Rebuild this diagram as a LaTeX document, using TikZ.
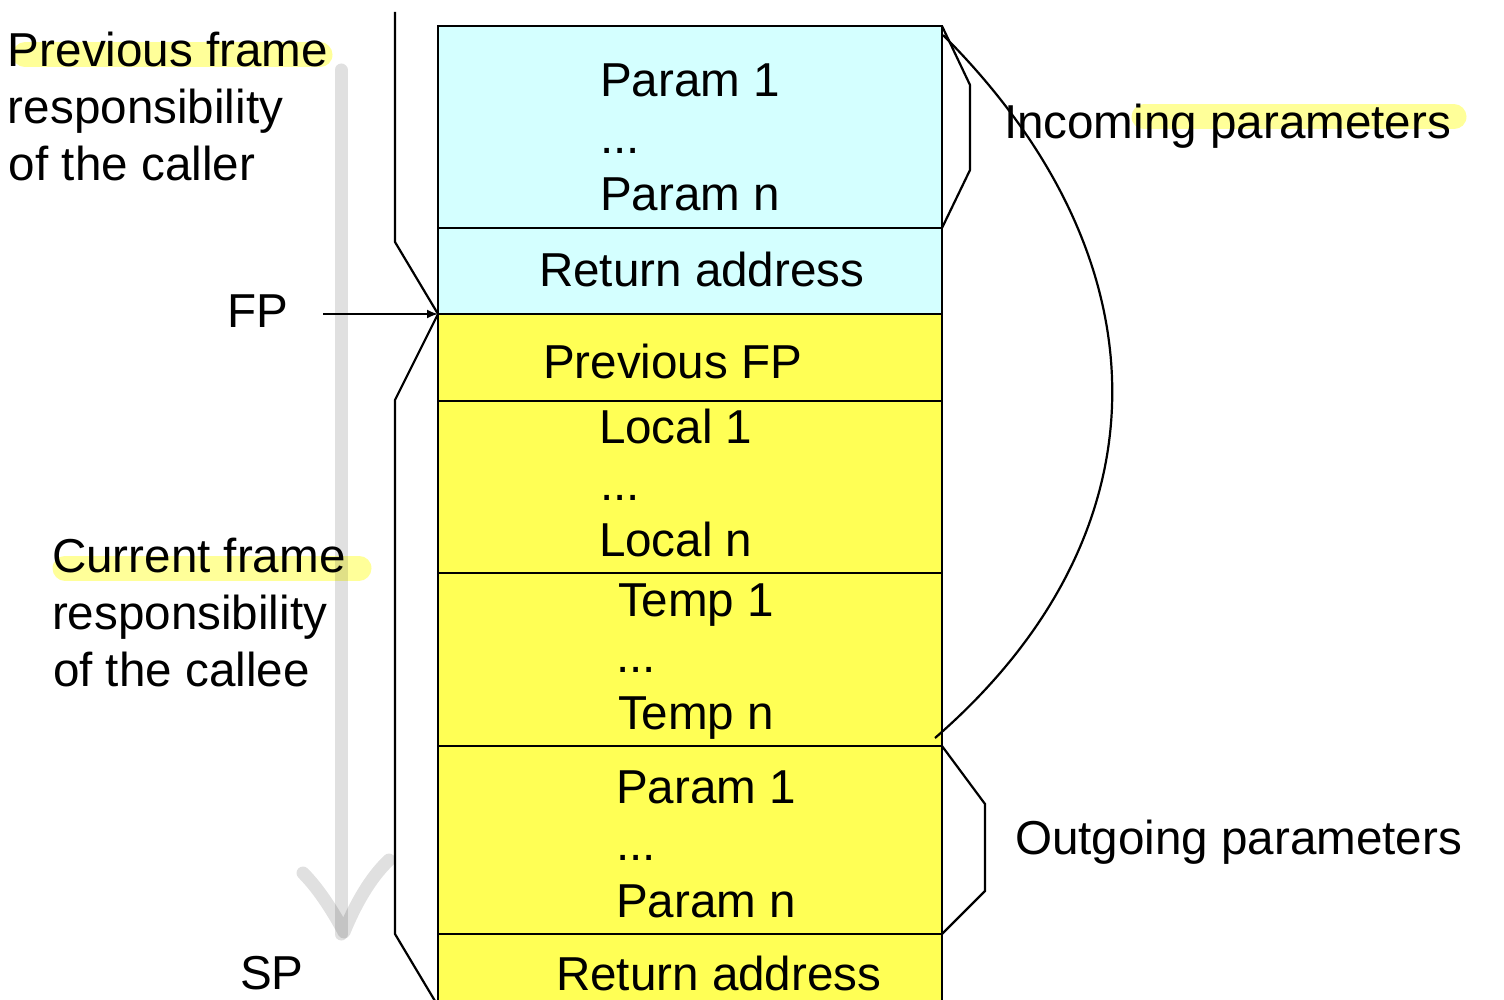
\documentclass[tikz,border=0pt]{standalone}
\usepackage{fontspec}
\setmainfont{Liberation Sans}
\usetikzlibrary{arrows.meta}
\definecolor{cyanc}{HTML}{D4FFFF}
\definecolor{yelc}{HTML}{FFFF55}
\definecolor{hlc}{HTML}{FFFF99}
\tikzset{
  cell/.style={draw=black, line width=2pt, minimum width=504pt, inner sep=0pt, outer sep=0pt},
  txt/.style={anchor=base west, inner sep=0pt, outer sep=0pt, font=\fontsize{47.6}{57}\selectfont},
  hl/.style={draw=hlc, line width=25pt, line cap=round},
  bracket/.style={draw=black, line width=2.2pt, line join=miter},
  grayarrow/.style={draw=black, draw opacity=0.12, line width=13pt, line cap=round, line join=round},
}
\begin{document}
\begin{tikzpicture}[x=1pt,y=-1pt]
\useasboundingbox (0,0) rectangle (1504,1000);
\clip (0,0) rectangle (1504,1000);
\fill[white] (0,0) rectangle (1504,1000);

% highlights
\draw[hl] (25,55) -- (320,55);
\draw[hl] (65,568) -- (359,568);
\draw[hl] (1144,117) -- (1454,117);

% gray direction arrow
\draw[grayarrow] (341,70) -- (341,934);
\draw[grayarrow] (303,873) .. controls (320,890) and (335,915) .. (344,932) .. controls (355,905) and (370,878) .. (389,860);

% stack cells
\node[cell, fill=cyanc, minimum height=202pt] (inpar) at (690,127) {};
\node[cell, fill=cyanc, minimum height=86pt] (retin) at (690,271) {};
\node[cell, fill=yelc, minimum height=87pt] (prevfp) at (690,357.5) {};
\node[cell, fill=yelc, minimum height=172pt] (locals) at (690,487) {};
\node[cell, fill=yelc, minimum height=173pt] (temps) at (690,659.5) {};
\node[cell, fill=yelc, minimum height=188pt] (outpar) at (690,840) {};
\node[cell, fill=yelc, minimum height=80pt] (retout) at (690,974) {};

% cell texts
\node[txt] (p1) at (600,97) {Param 1};
\node[txt] (pd) at (600,154) {...};
\node[txt] (pn) at (600,211) {Param n};
\node[txt] (ra1) at (539,287) {Return address};
\node[txt] (pfp) at (543,378) {Previous FP};
\node[txt] (l1) at (599,443) {Local 1};
\node[txt] (ld) at (600,500) {...};
\node[txt] (ln) at (599,556) {Local n};
\node[txt] (t1) at (618,616) {Temp 1};
\node[txt] (td) at (616,672) {...};
\node[txt] (tn) at (618,729) {Temp n};
\node[txt] (op1) at (616,803) {Param 1};
\node[txt] (opd) at (616,860) {...};
\node[txt] (opn) at (616,917) {Param n};
\node[txt] (ra2) at (556,990) {Return address};

% left texts
\node[txt] (pf1) at (8,67) {Previous frame};
\node[txt] (pf2) at (8,124) {responsibility};
\node[txt] (pf3) at (9,181) {of the caller};
\node[txt] (cf1) at (52,572) {Current frame};
\node[txt] (cf2) at (52,629) {responsibility};
\node[txt] (cf3) at (53,686) {of the callee};
\node[txt] (fp) at (227,327) {FP};
\node[txt] (sp) at (240,989) {SP};

% right texts
\node[txt] (inc) at (1004,139) {Incoming parameters};
\node[txt] (outg) at (1015,854) {Outgoing parameters};

% FP arrow
\coordinate (fpstart) at (323,314);
\draw[line width=2pt, -{Latex[length=11pt,width=9pt]}] (fpstart) -- (prevfp.north west);

% left brackets
\draw[bracket] (395,12) -- (395,242) -- (prevfp.north west) -- (395,400) -- (395,934) -- (438,1006);

% right braces
\draw[bracket] (inpar.north east) -- (970,85) -- (970,170) -- (inpar.south east);
\draw[bracket] (outpar.north east) -- (985,804) -- (985,891) -- (outpar.south east);

% incoming curve
\draw[line width=2.2pt] (943,35) .. controls (1170,262) and (1170,534) .. (935,738);
\end{tikzpicture}
\end{document}
